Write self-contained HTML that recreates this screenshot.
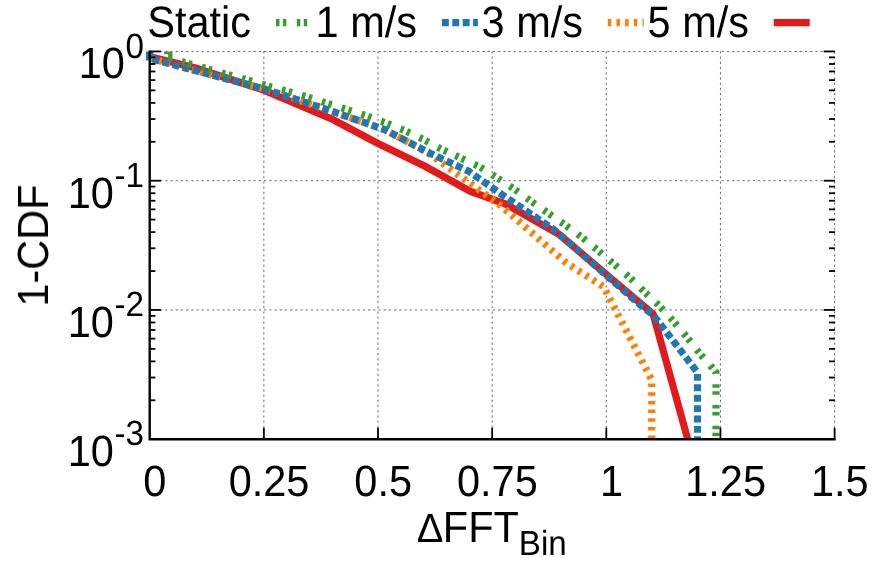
<!DOCTYPE html>
<html><head><meta charset="utf-8"><title>1-CDF vs FFT bin</title>
<style>html,body{margin:0;padding:0;background:#fff;}body{width:872px;height:564px;overflow:hidden;}svg{display:block;}text{font-family:"Liberation Sans",sans-serif;fill:#000;text-rendering:geometricPrecision;}</style>
</head><body>
<svg width="872" height="564" viewBox="0 0 872 564">
<rect x="0" y="0" width="872" height="564" fill="#ffffff"/>
<g stroke="#000" stroke-opacity="0.62" stroke-width="1" stroke-dasharray="2.1 3.1" fill="none">
<line x1="263.85" y1="51.45" x2="263.85" y2="439.20"/>
<line x1="378.00" y1="51.45" x2="378.00" y2="439.20"/>
<line x1="492.15" y1="51.45" x2="492.15" y2="439.20"/>
<line x1="606.30" y1="51.45" x2="606.30" y2="439.20"/>
<line x1="720.45" y1="51.45" x2="720.45" y2="439.20"/>
<line x1="834.60" y1="51.45" x2="834.60" y2="439.20"/>
<line x1="149.70" y1="51.45" x2="834.60" y2="51.45"/>
<line x1="149.70" y1="180.70" x2="834.60" y2="180.70"/>
<line x1="149.70" y1="309.95" x2="834.60" y2="309.95"/>
</g>
<defs><clipPath id="pc"><rect x="143.70" y="51.45" width="696.90" height="387.75"/></clipPath></defs>
<g fill="none" stroke-linejoin="miter" stroke-linecap="butt" clip-path="url(#pc)">
<polyline points="150.00,56.80 195.60,68.00 241.30,82.70 263.75,90.20 332.30,119.30 377.50,143.20 425.00,166.25 470.00,191.25 505.00,203.75 558.60,234.00 653.10,314.00 687.70,439.20" stroke="#e31a1c" stroke-width="7.2"/>
<polyline points="150.00,57.80 156.90,60.20 196.70,70.95 263.75,88.80 330.00,110.60 384.50,129.60 427.50,152.50 500.00,205.00 565.75,262.50 603.75,287.00 651.75,380.00 651.75,439.20" stroke="#ff7f00" stroke-width="7.2" stroke-dasharray="3.47 5.20" stroke-dashoffset="8.51"/>
<polyline points="149.60,51.40 149.60,57.80 156.90,60.20 196.70,70.95 263.75,88.80 330.00,110.60 384.50,129.60 431.00,153.75 468.75,171.25 502.50,195.00 554.50,230.00 641.00,305.50 653.25,315.00 697.50,372.50 697.50,439.20" stroke="#1f78b4" stroke-width="7.2" stroke-dasharray="6.93 3.47" stroke-dashoffset="0.77"/>
<rect x="145.9" y="51.4" width="3.9" height="9" fill="#1f78b4" stroke="none"/>
<polyline points="172.50,59.20 186.75,63.00 206.75,68.75 226.50,74.25 246.75,79.75 266.75,85.75 286.50,91.00 306.75,96.75 326.25,103.00 346.00,109.25 365.50,115.50 385.00,122.50 404.50,130.50 423.00,139.25 441.50,149.25 451.00,153.60" stroke="#33a02c" stroke-width="7.2" stroke-dasharray="3.47 3.47 3.47 10.40" stroke-dashoffset="11.25"/>
<polyline points="451.00,153.60 460.50,158.00 479.25,166.50 497.00,177.75 514.50,189.25 531.75,201.75 548.25,213.25 565.50,225.25 582.50,237.75 598.25,250.75 614.00,264.25 630.00,277.75 645.00,292.50 659.75,306.25 673.75,321.50 687.00,337.25 700.00,353.75 713.75,369.50 716.00,372.50 716.00,439.20" stroke="#33a02c" stroke-width="7.2" stroke-dasharray="3.47 3.47 3.47 10.40" stroke-dashoffset="16.04"/>
<path d="M164.2,51.3 H172.4 V61.1 H168.2 V54.2 H164.2 Z" fill="#33a02c" stroke="none"/>
</g>
<g stroke="#000" fill="none" stroke-linecap="butt">
<polyline points="149.70,50.55 149.70,439.20 835.60,439.20" stroke-linejoin="miter" stroke-width="2.4"/>
<g stroke-width="1.8">
<line x1="263.85" y1="439.20" x2="263.85" y2="427.80"/>
<line x1="378.00" y1="439.20" x2="378.00" y2="427.80"/>
<line x1="492.15" y1="439.20" x2="492.15" y2="427.80"/>
<line x1="606.30" y1="439.20" x2="606.30" y2="427.80"/>
<line x1="720.45" y1="439.20" x2="720.45" y2="427.80"/>
<line x1="834.60" y1="439.20" x2="834.60" y2="427.80"/>
<line x1="149.70" y1="51.45" x2="160.90" y2="51.45"/>
<line x1="835.00" y1="51.45" x2="823.70" y2="51.45"/>
<line x1="149.70" y1="141.79" x2="155.40" y2="141.79"/>
<line x1="835.00" y1="141.79" x2="829.00" y2="141.79"/>
<line x1="149.70" y1="119.03" x2="155.40" y2="119.03"/>
<line x1="835.00" y1="119.03" x2="829.00" y2="119.03"/>
<line x1="149.70" y1="102.88" x2="155.40" y2="102.88"/>
<line x1="835.00" y1="102.88" x2="829.00" y2="102.88"/>
<line x1="149.70" y1="90.36" x2="155.40" y2="90.36"/>
<line x1="835.00" y1="90.36" x2="829.00" y2="90.36"/>
<line x1="149.70" y1="80.12" x2="155.40" y2="80.12"/>
<line x1="835.00" y1="80.12" x2="829.00" y2="80.12"/>
<line x1="149.70" y1="71.47" x2="155.40" y2="71.47"/>
<line x1="835.00" y1="71.47" x2="829.00" y2="71.47"/>
<line x1="149.70" y1="63.98" x2="155.40" y2="63.98"/>
<line x1="835.00" y1="63.98" x2="829.00" y2="63.98"/>
<line x1="149.70" y1="57.36" x2="155.40" y2="57.36"/>
<line x1="835.00" y1="57.36" x2="829.00" y2="57.36"/>
<line x1="149.70" y1="180.70" x2="160.90" y2="180.70"/>
<line x1="835.00" y1="180.70" x2="823.70" y2="180.70"/>
<line x1="149.70" y1="271.04" x2="155.40" y2="271.04"/>
<line x1="835.00" y1="271.04" x2="829.00" y2="271.04"/>
<line x1="149.70" y1="248.28" x2="155.40" y2="248.28"/>
<line x1="835.00" y1="248.28" x2="829.00" y2="248.28"/>
<line x1="149.70" y1="232.13" x2="155.40" y2="232.13"/>
<line x1="835.00" y1="232.13" x2="829.00" y2="232.13"/>
<line x1="149.70" y1="219.61" x2="155.40" y2="219.61"/>
<line x1="835.00" y1="219.61" x2="829.00" y2="219.61"/>
<line x1="149.70" y1="209.37" x2="155.40" y2="209.37"/>
<line x1="835.00" y1="209.37" x2="829.00" y2="209.37"/>
<line x1="149.70" y1="200.72" x2="155.40" y2="200.72"/>
<line x1="835.00" y1="200.72" x2="829.00" y2="200.72"/>
<line x1="149.70" y1="193.23" x2="155.40" y2="193.23"/>
<line x1="835.00" y1="193.23" x2="829.00" y2="193.23"/>
<line x1="149.70" y1="186.61" x2="155.40" y2="186.61"/>
<line x1="835.00" y1="186.61" x2="829.00" y2="186.61"/>
<line x1="149.70" y1="309.95" x2="160.90" y2="309.95"/>
<line x1="835.00" y1="309.95" x2="823.70" y2="309.95"/>
<line x1="149.70" y1="400.29" x2="155.40" y2="400.29"/>
<line x1="835.00" y1="400.29" x2="829.00" y2="400.29"/>
<line x1="149.70" y1="377.53" x2="155.40" y2="377.53"/>
<line x1="835.00" y1="377.53" x2="829.00" y2="377.53"/>
<line x1="149.70" y1="361.38" x2="155.40" y2="361.38"/>
<line x1="835.00" y1="361.38" x2="829.00" y2="361.38"/>
<line x1="149.70" y1="348.86" x2="155.40" y2="348.86"/>
<line x1="835.00" y1="348.86" x2="829.00" y2="348.86"/>
<line x1="149.70" y1="338.62" x2="155.40" y2="338.62"/>
<line x1="835.00" y1="338.62" x2="829.00" y2="338.62"/>
<line x1="149.70" y1="329.97" x2="155.40" y2="329.97"/>
<line x1="835.00" y1="329.97" x2="829.00" y2="329.97"/>
<line x1="149.70" y1="322.48" x2="155.40" y2="322.48"/>
<line x1="835.00" y1="322.48" x2="829.00" y2="322.48"/>
<line x1="149.70" y1="315.86" x2="155.40" y2="315.86"/>
<line x1="835.00" y1="315.86" x2="829.00" y2="315.86"/>
</g></g>
<g opacity="0.999">
<text transform="translate(144.50,78.40) scale(1.000,1.055)" text-anchor="end" font-size="41.50"><tspan dx="-0.6">10</tspan><tspan dx="0.6" dy="-19.81" font-size="33.20">0</tspan></text>
<text transform="translate(144.50,207.65) scale(1.000,1.055)" text-anchor="end" font-size="41.50"><tspan dx="-0.6">10</tspan><tspan dx="0.6" dy="-19.81" font-size="33.20">-1</tspan></text>
<text transform="translate(144.50,336.90) scale(1.000,1.055)" text-anchor="end" font-size="41.50"><tspan dx="-0.6">10</tspan><tspan dx="0.6" dy="-19.81" font-size="33.20">-2</tspan></text>
<text transform="translate(144.50,466.15) scale(1.000,1.055)" text-anchor="end" font-size="41.50"><tspan dx="-0.6">10</tspan><tspan dx="0.6" dy="-19.81" font-size="33.20">-3</tspan></text>
<text transform="translate(154.90,495.65) scale(1.000,1.055)" text-anchor="middle" font-size="41.50">0</text>
<text transform="translate(269.05,495.65) scale(1.000,1.055)" text-anchor="middle" font-size="41.50">0.25</text>
<text transform="translate(383.20,495.65) scale(1.000,1.055)" text-anchor="middle" font-size="41.50">0.5</text>
<text transform="translate(497.35,495.65) scale(1.000,1.055)" text-anchor="middle" font-size="41.50">0.75</text>
<text transform="translate(611.50,495.65) scale(1.000,1.055)" text-anchor="middle" font-size="41.50">1</text>
<text transform="translate(725.65,495.65) scale(1.000,1.055)" text-anchor="middle" font-size="41.50">1.25</text>
<text transform="translate(839.80,495.65) scale(1.000,1.055)" text-anchor="middle" font-size="41.50">1.5</text>
<text transform="translate(416.75,542.40) scale(0.960,0.980)" text-anchor="start" font-size="41.50">Δ</text>
<text transform="translate(442.80,542.45) scale(1.000,1.050)" text-anchor="start" font-size="41.50">FFT<tspan dy="12.00" font-size="33.20">Bin</tspan></text>
<text transform="translate(47.90,245.60) rotate(-90) scale(1.000,1.050)" text-anchor="middle" font-size="41.50">1-CDF</text>
<text transform="translate(251.00,37.00) scale(1.000,1.060)" text-anchor="end" font-size="41.50">Static</text>
<line x1="276.00" y1="22.6" x2="312.00" y2="22.6" stroke="#33a02c" stroke-width="7.2" stroke-dasharray="3.47 3.47 3.47 10.4"/>
<text transform="translate(417.00,37.00) scale(1.000,1.060)" text-anchor="end" font-size="41.50">1 m/s</text>
<line x1="441.90" y1="22.6" x2="477.90" y2="22.6" stroke="#1f78b4" stroke-width="7.2" stroke-dasharray="6.93 3.47"/>
<text transform="translate(583.00,37.00) scale(1.000,1.060)" text-anchor="end" font-size="41.50">3 m/s</text>
<line x1="607.80" y1="22.6" x2="643.80" y2="22.6" stroke="#ff7f00" stroke-width="7.2" stroke-dasharray="3.47 5.2"/>
<text transform="translate(749.00,37.00) scale(1.000,1.060)" text-anchor="end" font-size="41.50">5 m/s</text>
<line x1="773.70" y1="22.6" x2="809.70" y2="22.6" stroke="#e31a1c" stroke-width="7.2"/>
</g>
</svg></body></html>
